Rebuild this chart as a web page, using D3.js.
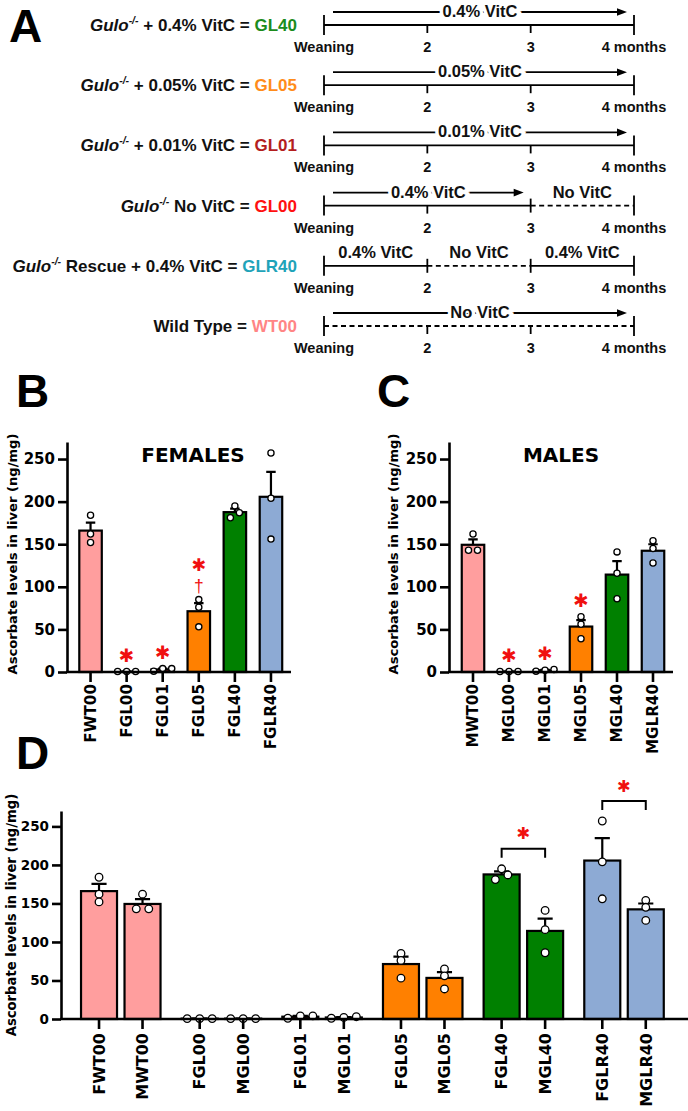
<!DOCTYPE html>
<html><head><meta charset="utf-8">
<script src="https://cdn.jsdelivr.net/npm/d3@7"></script>
<style>body{margin:0;background:#fff} text{white-space:pre}</style>
</head><body>
<svg id="fig" width="688" height="1111" xmlns="http://www.w3.org/2000/svg"></svg>
<script>
// ===== DATA =====
// Panel A: study design
const groupNames = ["GL40", "GL05", "GL01", "GL00", "GLR40", "WT00"];
const groupIsGulo = [true, true, true, true, true, false];
const groupPrefix = [" + 0.4% VitC = ", " + 0.05% VitC = ", " + 0.01% VitC = ", " No VitC = ", " Rescue + 0.4% VitC = ", "Wild Type = "];
const timelineMonths = [1, 2, 3, 4];
const timelineTicks = ["Weaning", "2", "3", "4 months"];
const groupDiets = [
  [{from: 1, to: 4, diet: "0.4% VitC", arrow: true}],
  [{from: 1, to: 4, diet: "0.05% VitC", arrow: true}],
  [{from: 1, to: 4, diet: "0.01% VitC", arrow: true}],
  [{from: 1, to: 3, diet: "0.4% VitC", arrow: true}, {from: 3, to: 4, diet: "No VitC", arrow: false}],
  [{from: 1, to: 2, diet: "0.4% VitC", arrow: false}, {from: 2, to: 3, diet: "No VitC", arrow: false}, {from: 3, to: 4, diet: "0.4% VitC", arrow: false}],
  [{from: 1, to: 4, diet: "No VitC", arrow: true}]
];

// Panels B-D: liver ascorbate (ng/mg), individual animals
const barGroups = ["WT00", "GL00", "GL01", "GL05", "GL40", "GLR40"];
const femaleCats = ["FWT00", "FGL00", "FGL01", "FGL05", "FGL40", "FGLR40"];
const maleCats = ["MWT00", "MGL00", "MGL01", "MGL05", "MGL40", "MGLR40"];
const femaleValues = [[184, 162, 152], [0.5, 0.5, 0.5], [1, 4, 4], [85, 76, 53], [195, 187, 181], [257, 204, 156]];
const maleValues = [[162, 143, 143], [0.5, 0.5, 0.5], [1, 3, 2], [65, 56, 39], [141, 116, 86], [154, 145, 128]];
const femaleStar = [false, true, true, true, false, false];
const femaleDagger = [false, false, false, true, false, false];
const maleStar = [false, true, true, true, false, false];
const sexStar = [false, false, false, false, true, true];
const yTicks = [0, 50, 100, 150, 200, 250];
const yMax = 270;

// ===== STYLE =====
const fA = "'Liberation Sans', Arial, Helvetica, sans-serif";
const fB = "'DejaVu Sans', 'Liberation Sans', sans-serif";
const labelColors = {GL40: "#1c8c1c", GL05: "#ff8c1a", GL01: "#b41e1e", GL00: "#ff1010", GLR40: "#1fa3b9", WT00: "#ff8585"};
const barColors = {WT00: "#ff9e9e", GL00: "#ff4040", GL01: "#c03030", GL05: "#ff8000", GL40: "#008000", GLR40: "#8daad4"};
const red = "#f01010";

const svg = d3.select("#fig");
svg.append("rect").attr("width", 688).attr("height", 1111).attr("fill", "#fff");

// Panel letters
[["A", 9, 42], ["B", 16, 407], ["C", 377, 407], ["D", 16, 769]].forEach(([t, x, y]) => {
  svg.append("text").attr("x", x).attr("y", y).attr("font-family", fA).attr("font-weight", "bold")
    .attr("font-size", 46).attr("fill", "#000").text(t);
});

// ===== PANEL A =====
const gA = svg.append("g");
const xT = d3.scaleLinear().domain([1, 4]).range([324, 634]);
const yRow = d3.scalePoint().domain(groupNames).range([25, 326]);

groupNames.forEach((name, i) => {
  const y = yRow(name);
  const segs = groupDiets[i];
  const t = gA.append("text").attr("x", 297).attr("y", y + 6).attr("text-anchor", "end")
    .attr("font-family", fA).attr("font-weight", "bold").attr("font-size", 17).attr("fill", "#111");
  if (groupIsGulo[i]) {
    t.append("tspan").attr("font-style", "italic").text("Gulo");
    t.append("tspan").attr("font-style", "italic").attr("font-size", 10.5).attr("dy", -7).text("-/-");
    t.append("tspan").attr("dy", 7).text(groupPrefix[i]);
  } else {
    t.append("tspan").text(groupPrefix[i]);
  }
  t.append("tspan").attr("fill", labelColors[name]).text(name);

  segs.forEach(s => {
    const dashed = s.diet === "No VitC";
    gA.append("line").attr("x1", xT(s.from)).attr("x2", xT(s.to)).attr("y1", y).attr("y2", y)
      .attr("stroke", "#000").attr("stroke-width", 1.8).attr("stroke-dasharray", dashed ? "5,3.5" : null);
    const cx = (xT(s.from) + xT(s.to)) / 2;
    if (s.arrow) {
      const xa = xT(s.from) + 9, xb = xT(s.to) - 7, ya = y - 13;
      gA.append("line").attr("x1", xa).attr("x2", xb - 8).attr("y1", ya).attr("y2", ya)
        .attr("stroke", "#000").attr("stroke-width", 1.8);
      gA.append("path").attr("d", `M${xb},${ya} L${xb - 10},${ya - 3.8} L${xb - 10},${ya + 3.8} Z`).attr("fill", "#000");
      gA.append("text").attr("x", (xa + xb) / 2).attr("y", y - 8).attr("text-anchor", "middle")
        .attr("font-family", fA).attr("font-weight", "bold").attr("font-size", 16.5)
        .attr("stroke", "#fff").attr("stroke-width", 7).attr("paint-order", "stroke").attr("fill", "#111").text(s.diet);
    } else {
      gA.append("text").attr("x", cx).attr("y", y - 8).attr("text-anchor", "middle")
        .attr("font-family", fA).attr("font-weight", "bold").attr("font-size", 16.5).attr("fill", "#111").text(s.diet);
    }
  });
  timelineMonths.forEach((m, k) => {
    let y1, y2;
    if (k === 0 || k === timelineMonths.length - 1) { y1 = y - 10; y2 = y + 10; }
    else if (segs.some(s => s.from === m)) { y1 = y - 7; y2 = y + 7; }
    else { y1 = y; y2 = y + 8; }
    gA.append("line").attr("x1", xT(m)).attr("x2", xT(m)).attr("y1", y1).attr("y2", y2)
      .attr("stroke", "#000").attr("stroke-width", 1.8);
    gA.append("text").attr("x", xT(m)).attr("y", y + 27).attr("text-anchor", "middle")
      .attr("font-family", fA).attr("font-weight", "bold").attr("font-size", 14.5).attr("fill", "#111")
      .text(timelineTicks[k]);
  });
});

// ===== BAR HELPERS =====
function swarm(vals, y, thr, sep) {
  const pts = vals.map((v, i) => ({v, i, py: y(v)})).sort((a, b) => b.v - a.v);
  const rows = [];
  pts.forEach(p => {
    const last = rows[rows.length - 1];
    if (last && Math.abs(p.py - last[last.length - 1].py) < thr) last.push(p); else rows.push([p]);
  });
  const out = [];
  rows.forEach(row => row.forEach((p, k) => out.push({v: p.v, dx: ((row.length - 1) / 2 - k) * sep})));
  return out;
}

function stats(vals) {
  return {mean: d3.mean(vals), sem: d3.deviation(vals) / Math.sqrt(vals.length)};
}

function drawBars(g, items, y, barW, r, thr, sep) {
  items.forEach(it => {
    const s = stats(it.vals);
    it.mean = s.mean; it.sem = s.sem;
    it.top = Math.max(d3.max(it.vals), s.mean + s.sem);
    g.append("rect").attr("x", it.cx - barW / 2).attr("y", y(s.mean)).attr("width", barW)
      .attr("height", y(0) - y(s.mean)).attr("fill", barColors[it.group]).attr("stroke", "#000").attr("stroke-width", 2.2);
  });
  items.forEach(it => {
    const cw = barW * 0.21;
    g.append("path").attr("d", `M${it.cx},${y(it.mean)} V${y(it.mean + it.sem)} M${it.cx - cw},${y(it.mean + it.sem)} H${it.cx + cw}`)
      .attr("fill", "none").attr("stroke", "#000").attr("stroke-width", 2.2);
  });
  items.forEach(it => {
    swarm(it.vals, y, thr, sep).forEach(p => {
      g.append("circle").attr("cx", it.cx + p.dx).attr("cy", y(p.v)).attr("r", r)
        .attr("fill", "#fff").attr("stroke", "#000").attr("stroke-width", 1.3);
    });
  });
}

function drawYAxis(g, y, x0, fs) {
  const ax = g.append("g").attr("transform", `translate(${x0},0)`)
    .call(d3.axisLeft(y).tickValues(yTicks).tickSize(9).tickSizeOuter(0).tickPadding(3));
  ax.select(".domain").attr("stroke", "#000").attr("stroke-width", 2.6);
  ax.selectAll(".tick line").attr("stroke", "#000").attr("stroke-width", 2.6);
  ax.selectAll(".tick text").attr("font-family", fB).attr("font-weight", "bold").attr("font-size", fs).attr("fill", "#000");
}

function drawXAxis(g, xs, yZero, x0, x1, fs, gap) {
  g.append("line").attr("x1", x0 - 1).attr("x2", x1).attr("y1", yZero).attr("y2", yZero)
    .attr("stroke", "#000").attr("stroke-width", 2.6);
  const ax = g.append("g").attr("transform", `translate(0,${yZero})`)
    .call(d3.axisBottom(xs.scale).tickSize(10).tickSizeOuter(0));
  ax.select(".domain").remove();
  ax.selectAll(".tick").attr("transform", d => `translate(${xs.pos(d)},0)`);
  ax.selectAll(".tick line").attr("stroke", "#000").attr("stroke-width", 2.6);
  ax.selectAll(".tick text").attr("font-family", fB).attr("font-weight", "bold").attr("font-size", fs)
    .attr("fill", "#000").attr("text-anchor", "end").attr("transform", "rotate(-90)")
    .attr("x", -gap).attr("y", 0).attr("dy", "0.36em");
}

function yLabel(g, x, yc, fs) {
  g.append("text").attr("transform", `translate(${x},${yc}) rotate(-90)`).attr("text-anchor", "middle")
    .attr("dominant-baseline", "central").attr("font-family", fB).attr("font-weight", "bold")
    .attr("font-size", fs).attr("fill", "#000").text("Ascorbate levels in liver (ng/mg)");
}

function star(g, x, y, fs) {
  g.append("text").attr("x", x).attr("y", y).attr("text-anchor", "middle").attr("dominant-baseline", "central")
    .attr("font-family", fB).attr("font-size", fs).attr("fill", red).text("\u2731");
}

// ===== PANELS B & C =====
function sexPanel(cats, values, stars, daggers, o) {
  const g = svg.append("g");
  const y = d3.scaleLinear().domain([0, yMax]).range([672, 442]);
  const x = d3.scalePoint().domain(cats).range([o.c0, o.c1]).padding(0.5);
  const items = cats.map((c, i) => ({cat: c, group: barGroups[i], vals: values[i], cx: x(c)}));
  drawBars(g, items, y, 22.5, 3.1, 6, 9);
  drawYAxis(g, y, o.x0, 15);
  drawXAxis(g, {scale: x, pos: d => x(d)}, 672, o.x0, o.x1, 15.2, 12);
  yLabel(g, o.lx, 554, 13.1);
  g.append("text").attr("x", o.tx).attr("y", 462).attr("text-anchor", "middle").attr("font-family", fB)
    .attr("font-weight", "bold").attr("font-size", 20).attr("fill", "#000").text(o.title);
  items.forEach((it, i) => {
    const yt = y(it.top);
    if (daggers[i]) {
      g.append("text").attr("x", it.cx).attr("y", yt - 14).attr("text-anchor", "middle").attr("dominant-baseline", "central")
        .attr("font-family", fA).attr("font-size", 17.5).attr("fill", red).text("\u2020");
      if (stars[i]) star(g, it.cx, yt - 35, 17.5);
    } else if (stars[i]) star(g, it.cx, yt - 16, 18.5);
  });
}
sexPanel(femaleCats, femaleValues, femaleStar, femaleDagger, {c0: 72.5, c1: 289, x0: 67, x1: 291, lx: 12, tx: 193, title: "FEMALES"});
sexPanel(maleCats, maleValues, maleStar, [false, false, false, false, false, false], {c0: 455, c1: 671, x0: 449, x1: 673, lx: 393, tx: 561, title: "MALES"});

// ===== PANEL D =====
(function () {
  const g = svg.append("g");
  const y = d3.scaleLinear().domain([0, yMax]).range([1019, 811]);
  const xg = d3.scaleBand().domain(barGroups).range([70.45, 674.35]);
  const xi = d3.scalePoint().domain(["F", "M"]).range([0, xg.step()]).padding(0.657);
  const allCats = [], pos = {};
  const items = [];
  barGroups.forEach((grp, i) => {
    [["F", femaleCats[i], femaleValues[i]], ["M", maleCats[i], maleValues[i]]].forEach(([s, c, v]) => {
      const cx = xg(grp) + xi(s);
      allCats.push(c); pos[c] = cx;
      items.push({cat: c, group: grp, vals: v, cx, sex: s});
    });
  });
  drawBars(g, items, y, 36, 3.8, 5.5, 12.5);
  drawYAxis(g, y, 61, 13.5);
  const xs = d3.scalePoint().domain(allCats).range([0, 1]);
  drawXAxis(g, {scale: xs, pos: d => pos[d]}, 1019, 61, 688, 16, 14);
  yLabel(g, 11, 915, 13.2);
  barGroups.forEach((grp, i) => {
    if (!sexStar[i]) return;
    const f = items.find(d => d.group === grp && d.sex === "F"), m = items.find(d => d.group === grp && d.sex === "M");
    const yb = y(Math.max(f.top, m.top)) - 20;
    g.append("path").attr("d", `M${f.cx},${yb + 9} V${yb} H${m.cx} V${yb + 9}`)
      .attr("fill", "none").attr("stroke", "#000").attr("stroke-width", 2);
    star(g, (f.cx + m.cx) / 2, yb - 15, 16.5);
  });
})();
</script>
</body></html>
